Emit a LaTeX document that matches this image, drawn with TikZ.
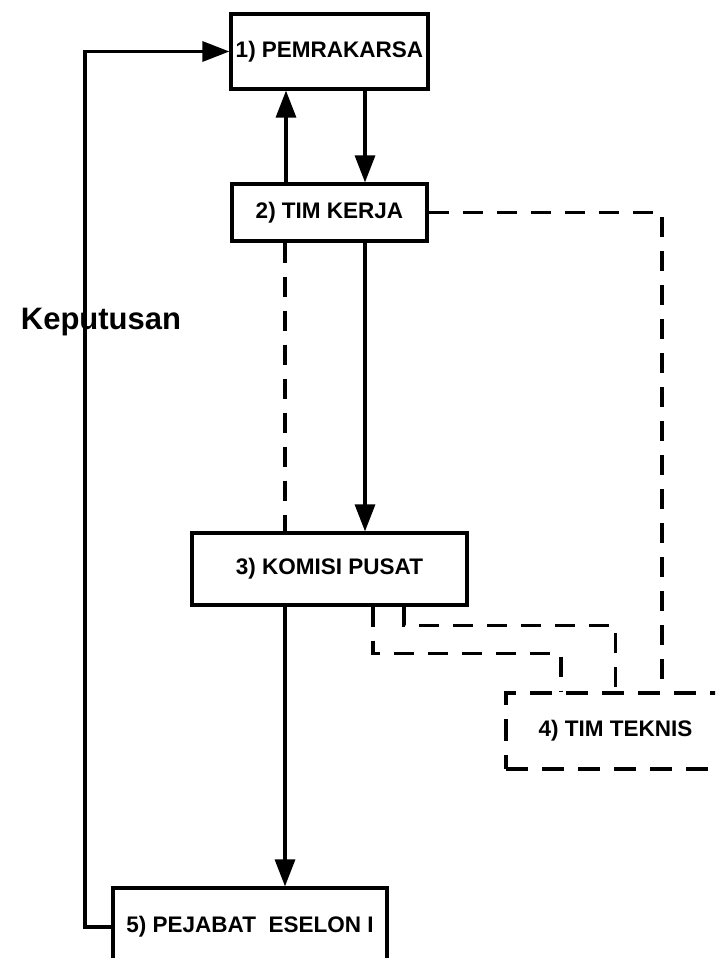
\documentclass[tikz,border=0pt]{standalone}
\usepackage{fontspec}
\setmainfont{Liberation Sans}
\usetikzlibrary{arrows.meta}
\begin{document}
\begin{tikzpicture}[x=1pt,y=-1pt,
  box/.style={draw, line width=3.2pt, rectangle, align=center,
    font=\fontsize{22.5}{27}\selectfont\bfseries, inner sep=0pt},
  dashbox/.style={box, dash pattern=on 22pt off 14pt},
  flow/.style={line width=3.2pt, -{Triangle[length=27pt 0,width=20pt 0]}},
  dashline/.style={line width=3.2pt, dash pattern=on 20pt off 14pt}]
\clip (0,0) rectangle (715,958);
\fill[white] (0,0) rectangle (715,958);

% boxes
\node[box, minimum width=197pt, minimum height=75pt] (b1) at (329.5,51.5) {1) PEMRAKARSA};
\node[box, minimum width=195pt, minimum height=57pt] (b2) at (329.5,212.5) {2) TIM KERJA};
\node[box, minimum width=275pt, minimum height=72pt] (b3) at (329.5,569) {3) KOMISI PUSAT};
\node[dashbox, minimum width=219pt, minimum height=76pt] (b4) at (615.5,731) {4) TIM TEKNIS};
\node[box, minimum width=274pt, minimum height=78pt] (b5) at (250,927) {5) PEJABAT\ \ ESELON I};

% solid flows
\draw[flow] ([xshift=-43.5pt]b2.north) -- ([xshift=-43.5pt]b1.south);
\draw[flow] ([xshift=35.5pt]b1.south) -- ([xshift=35.5pt]b2.north);
\draw[flow] ([xshift=35.5pt]b2.south) -- ([xshift=35.5pt]b3.north);
\draw[flow] ([xshift=-44.5pt]b3.south) -- ([xshift=-44.5pt]b3.south |- b5.north);

% decision loop back to the initiator
\coordinate (kl) at (85,927);
\draw[flow] (b5.west) -- (kl) |- (b1.west);
\node[font=\fontsize{31}{36}\selectfont\bfseries] (kp) at (101,322) {Keputusan};

% dashed coordination lines
\draw[dashline] ([xshift=-44.5pt]b2.south) -- ([xshift=-44.5pt]b2.south |- b3.north);
\draw[dashline] (b2.east) -| ([xshift=46.5pt]b4.north);
\draw[dashline] ([xshift=74.5pt]b3.south) -- ++(0,19) -| (b4.north);
\draw[dashline] ([xshift=43.5pt]b3.south) -- ++(0,47) -| ([xshift=-54.5pt]b4.north);
\end{tikzpicture}
\end{document}
